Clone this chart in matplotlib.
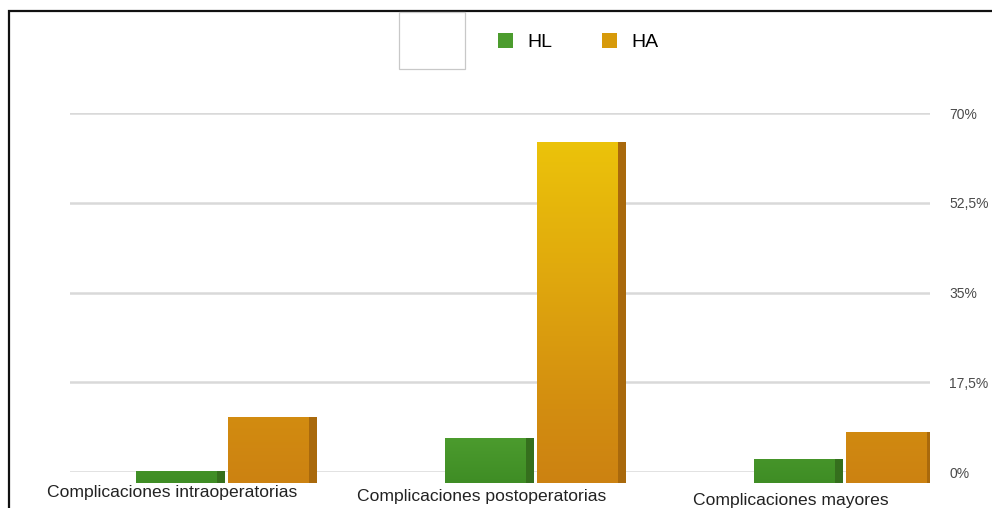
import numpy as np
import matplotlib
matplotlib.use("Agg")
import matplotlib.pyplot as plt
from matplotlib.colors import LinearSegmentedColormap
from matplotlib.patches import Rectangle
from matplotlib.transforms import blended_transform_factory

plt.rcParams['font.family'] = ['Liberation Sans', 'DejaVu Sans']

categorias = ["Complicaciones intraoperatorias",
              "Complicaciones postoperatorias",
              "Complicaciones mayores"]
hl = [2.3, 8.6, 4.6]
ha = [12.6, 65.0, 9.7]
ticks = [0, 17.5, 35, 52.5, 70]
tick_labels = ["0%", "17,5%", "35%", "52,5%", "70%"]

W, H = 992, 508
fig = plt.figure(figsize=(W / 100, H / 100), dpi=100)

# back plane with the gridlines and the percentage scale
ax_grid = fig.add_axes([70 / W, 36 / H, 860 / W, 359 / H])
ax_grid.set_ylim(0, 70)
ax_grid.set_xlim(0, 1)
ax_grid.set_yticks(ticks)
ax_grid.set_yticklabels(tick_labels)
ax_grid.yaxis.tick_right()
ax_grid.tick_params(axis='y', length=0, pad=14, labelsize=10, labelcolor='#4a4a4a')
ax_grid.set_xticks([])
ax_grid.grid(axis='y', color='#d9d9d9', linewidth=1.8)
for s in ax_grid.spines.values():
    s.set_visible(False)

# front plane with the bars
ax = fig.add_axes([70 / W, 25 / H, 860 / W, 367 / H])
ax.patch.set_alpha(0)
ax.axis('off')

cmap_ha = LinearSegmentedColormap.from_list(
    'ha', [(0, '#cc8212'), (0.2, '#d38d10'), (0.6, '#e1ab0d'), (1.0, '#eec80a')])
cmap_hl = LinearSegmentedColormap.from_list(
    'hl', [(0, '#3f8d25'), (0.15, '#4f9f30'), (1.0, '#5cb03a')])

x = np.arange(len(categorias))
width = 0.26
offset = 0.15
depth = 0.028

series = [
    ("HL", hl, -offset, cmap_hl, '#356f1d', '#4c9c2e'),
    ("HA", ha, offset, cmap_ha, '#a9690c', '#d79a0a'),
]

grad = np.linspace(0, 1, 256).reshape(-1, 1)
handles = []
for name, vals, dx, cmap, side, face in series:
    # darker side face behind each bar
    ax.bar(x + dx + depth, vals, width, color=side, zorder=2)
    bars = ax.bar(x + dx, vals, width, color=face, zorder=3, label=name)
    for b in bars:
        x0 = b.get_x()
        img = ax.imshow(grad, extent=(x0, x0 + width, 0, 70), origin='lower',
                        cmap=cmap, vmin=0, vmax=1, aspect='auto', zorder=4)
        img.set_clip_path(b)
    handles.append(bars)

ax.set_xlim(-0.492, 2.291)
ax.set_ylim(0, 70)

# category labels under each group
trans = blended_transform_factory(ax.transData, fig.transFigure)
for i, (cat, yy) in enumerate(zip(categorias, [492, 496, 500])):
    ax.text(x[i] - 0.16, 1 - yy / H, cat, transform=trans, ha='center', va='center',
            fontsize=12.6, color='#222222', clip_on=False)

fig.legend(handles, ["HL", "HA"], loc='center left', bbox_to_anchor=(498 / W, 1 - 42 / H),
           ncol=2, frameon=False, fontsize=14, handlelength=0.78, handleheight=0.78,
           handletextpad=0.72, columnspacing=2.55, borderpad=0, borderaxespad=0)

# outer frame and the empty box at the top
fig.patches.append(Rectangle((9 / W, -0.2), 1.2, 1.2 - 11 / H,
                             transform=fig.transFigure, fill=False,
                             edgecolor='#111111', linewidth=1.6, clip_on=False))
fig.patches.append(Rectangle((399 / W, 1 - 69 / H), 66 / W, 57 / H,
                             transform=fig.transFigure, facecolor='white',
                             edgecolor='#c8c8c8', linewidth=0.9))

fig.savefig("out.png", dpi=100)
